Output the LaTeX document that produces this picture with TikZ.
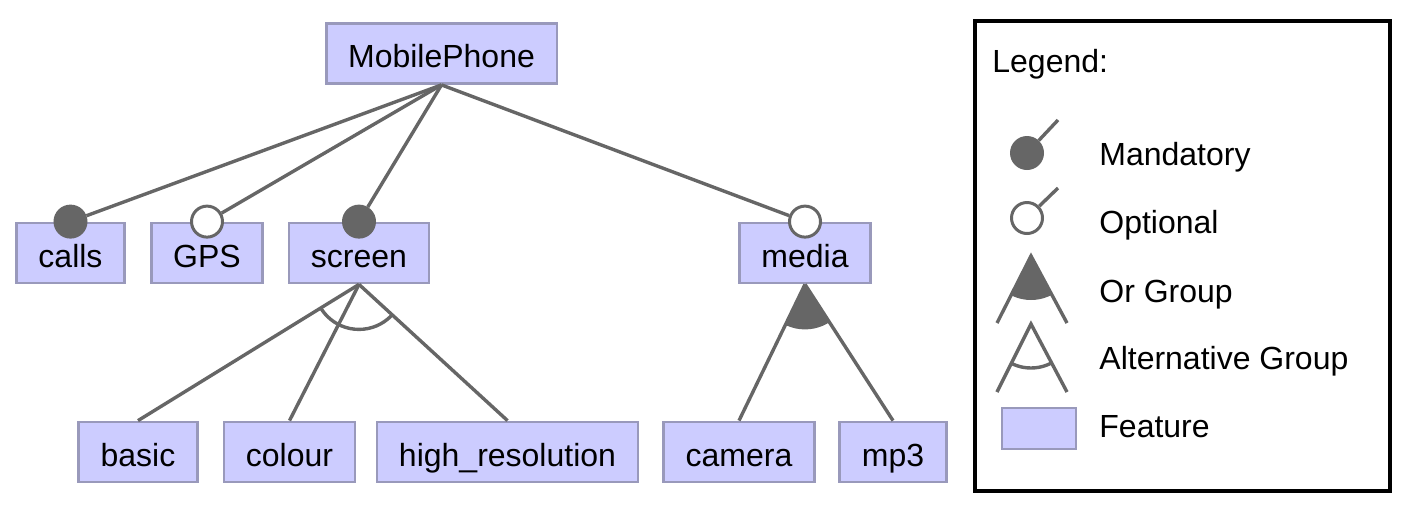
\documentclass[tikz,border=0pt]{standalone}
\usepackage{fontspec}
\setmainfont{Liberation Sans}
\usetikzlibrary{positioning,calc}

\definecolor{featfill}{HTML}{CCCCFF}
\definecolor{featedge}{HTML}{9999BB}
\definecolor{linkgray}{HTML}{666666}

\begin{document}
\begin{tikzpicture}[x=0.5pt,y=-0.5pt,
    feature/.style={draw=featedge,fill=featfill,line width=1.4pt,minimum height=30pt,
      inner xsep=11pt,inner ysep=0pt,text height=14pt,text depth=0pt,
      font=\fontsize{16}{18}\selectfont},
    link/.style={draw=linkgray,line width=1.7pt},
    mandatory/.style={circle,draw=linkgray,fill=linkgray,line width=1.5pt,minimum size=15.5pt,inner sep=0pt},
    optional/.style={circle,draw=linkgray,fill=white,line width=1.5pt,minimum size=15.5pt,inner sep=0pt},
    legtext/.style={anchor=base west,inner sep=0pt,font=\fontsize{16}{18}\selectfont}]
  \useasboundingbox (0,0) rectangle (1402,510);

  % Feature tree
  \node[feature] (phone) at (441.5,53.5) {MobilePhone};
  \node[feature] (calls) at (70.5,253) {calls};
  \node[feature] (gps) at (207,253) {GPS};
  \node[feature] (screen) at (359,253) {screen};
  \node[feature] (media) at (805,253) {media};
  \node[feature] (basic) at (138,452) {basic};
  \node[feature] (colour) at (289.5,452) {colour};
  \node[feature] (hires) at (507.5,452) {high\_resolution};
  \node[feature] (camera) at (739,452) {camera};
  \node[feature] (mpthree) at (893,452) {mp3};

  % Mandatory and optional children
  \node[mandatory] (callsDot) at (calls.north) {};
  \node[optional] (gpsDot) at (gps.north) {};
  \node[mandatory] (screenDot) at (screen.north) {};
  \node[optional] (mediaDot) at (media.north) {};
  \foreach \dot in {callsDot,gpsDot,screenDot,mediaDot}
    \draw[link] (phone.south) -- (\dot);

  % Alternative group below screen
  \draw[link] (screen.south) -- (basic.north);
  \draw[link] (screen.south) -- (colour.north);
  \draw[link] (screen.south) -- (hires.north);
  \begin{scope}
    \clip (screen.south) -- (basic.north) -- (hires.north) -- cycle;
    \draw[link] (screen.south) circle (22.5pt);
  \end{scope}

  % Or group below media
  \begin{scope}
    \clip (media.south) -- (camera.north) -- (mpthree.north) -- cycle;
    \fill[linkgray] (media.south) circle (22.5pt);
  \end{scope}
  \draw[link] (media.south) -- (camera.north);
  \draw[link] (media.south) -- (mpthree.north);

  % Legend
  \node[draw=black,line width=2pt,minimum width=207.5pt,minimum height=235pt,inner sep=0pt]
    (legendBox) at (1182.5,256) {};
  \node[legtext] (legendTitle) at (992,72) {Legend:};

  \coordinate (mandEnd) at (1058,120);
  \node[mandatory] (mandDot) at (1027,153) {};
  \draw[link] (mandDot) -- (mandEnd);
  \node[legtext] (mandText) at (1099,165) {Mandatory};

  \coordinate (optEnd) at (1058,188);
  \node[optional] (optDot) at (1027,218) {};
  \draw[link] (optDot) -- (optEnd);
  \node[legtext] (optText) at (1099,233) {Optional};

  \coordinate (orTop) at (1031,256);
  \coordinate (orLeft) at (997,323);
  \coordinate (orRight) at (1067,323);
  \begin{scope}
    \clip (orTop) -- (orLeft) -- (orRight) -- cycle;
    \fill[linkgray] (orTop) circle (22pt);
  \end{scope}
  \draw[link] (orLeft) -- (orTop) -- (orRight);
  \node[legtext] (orText) at (1099,302) {Or Group};

  \coordinate (altTop) at (1031,324);
  \coordinate (altLeft) at (997,392);
  \coordinate (altRight) at (1067,392);
  \begin{scope}
    \clip (altTop) -- (altLeft) -- (altRight) -- cycle;
    \draw[link] (altTop) circle (22pt);
  \end{scope}
  \draw[link] (altLeft) -- (altTop) -- (altRight);
  \node[legtext] (altText) at (1099,369) {Alternative Group};

  \node[feature,minimum width=37pt,minimum height=20.5pt,inner sep=0pt,text height=0pt] (featKey) at (1039,428.5) {};
  \node[legtext] (featText) at (1099,437) {Feature};
\end{tikzpicture}
\end{document}
